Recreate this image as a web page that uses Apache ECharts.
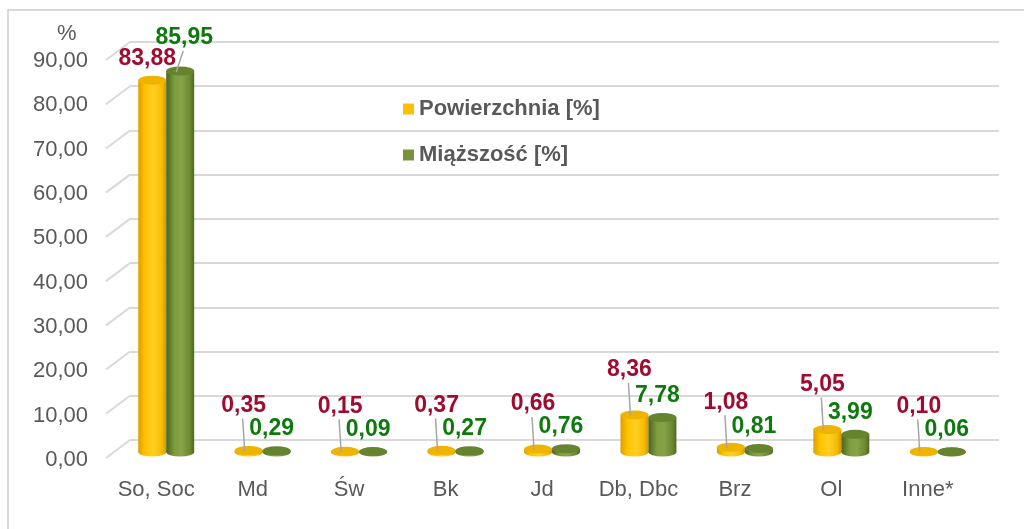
<!DOCTYPE html>
<html>
<head>
<meta charset="utf-8">
<script src="https://cdn.jsdelivr.net/npm/echarts@6/dist/echarts.min.js"></script>
<style>
  html, body { margin: 0; padding: 0; background: #fff; }
  #chart { width: 1024px; height: 529px; }
</style>
</head>
<body>
<div id="chart"></div>
<script>
const categories = ['So, Soc', 'Md', 'Św', 'Bk', 'Jd', 'Db, Dbc', 'Brz', 'Ol', 'Inne*'];
const powierzchnia = [83.88, 0.35, 0.15, 0.37, 0.66, 8.36, 1.08, 5.05, 0.10];
const miazszosc = [85.95, 0.29, 0.09, 0.27, 0.76, 7.78, 0.81, 3.99, 0.06];
const yTicks = [0, 10, 20, 30, 40, 50, 60, 70, 80, 90];

const FONT = '"Liberation Sans", Arial, sans-serif';
const fmt = v => v.toFixed(2).replace('.', ',');

const grad = (stops) => ({
   type: 'linear', x: 0, y: 0, x2: 1, y2: 0,
   colorStops: stops.map(([o, c]) => ({ offset: o, color: c }))
});

const yellowBody = grad([[0, '#DE9E00'], [0.25, '#FFC400'], [0.55, '#FFD024'], [0.85, '#F7BA00'], [1, '#D49800']]);
const greenBody = grad([[0, '#4C6620'], [0.3, '#7E9C40'], [0.55, '#86A447'], [0.85, '#6C8833'], [1, '#4D6822']]);

// side: -1 left bar, +1 right bar
const cylinder = (side, body, topFill, labelColor, placeLabel) => (params, api) => {
   const i = api.value(0);
   const v = api.value(1);
   const top = api.coord([i, v]);
   const base = api.coord([i, 0]);
   const band = api.size([1, 0])[0];
   const rx = band * 0.145;
   const ry = 4.5;
   const cx = top[0] + side * rx;
   const [dx, dy, leader] = placeLabel(i);
   const lx = cx + dx, ly = top[1] + dy;
   const children = [
      { type: 'circle', x: cx, y: base[1], scaleY: ry / rx, shape: { cx: 0, cy: 0, r: rx }, style: { fill: body } },
      { type: 'rect', shape: { x: cx - rx, y: top[1], width: rx * 2, height: base[1] - top[1] }, style: { fill: body } },
      { type: 'circle', x: cx, y: top[1], scaleY: ry / rx, shape: { cx: 0, cy: 0, r: rx }, style: { fill: topFill } }
   ];
   if (leader) {
      children.push({
         type: 'line',
         shape: { x1: lx - 1, y1: ly + 13, x2: cx - 4, y2: top[1] + 1 },
         style: { stroke: '#A6A6A6', lineWidth: 1.5 }
      });
   }
   children.push({
      type: 'text', x: lx, y: ly,
      style: { text: fmt(v), fill: labelColor, font: 'bold 23px ' + FONT, align: 'center', verticalAlign: 'middle' }
   });
   return { type: 'group', children };
};

const chart = echarts.init(document.getElementById('chart'));
chart.setOption({
   animation: false,
   title: {
      text: '%', left: 52, top: 18,
      textStyle: { fontSize: 22, fontWeight: 'normal', color: '#595959', fontFamily: FONT }
   },
   graphic: [{
      type: 'rect', silent: true,
      shape: { x: 8, y: 10, width: 1100, height: 600 },
      style: { fill: 'none', stroke: '#D9D9D9', lineWidth: 2 }
   }],
   legend: {
      orient: 'vertical', left: 398, top: 93,
      itemWidth: 11, itemHeight: 11, itemGap: 24,
      icon: 'rect',
      textStyle: { fontSize: 22, fontWeight: 'bold', color: '#595959', fontFamily: FONT },
      data: ['Powierzchnia [%]', 'Miąższość [%]']
   },
   grid: [
      { left: 130, right: 25, top: 42, height: 398 },   // back wall gridlines
      { left: 118, right: 38, top: 53, height: 399 },   // cylinders
      { left: 118, right: 38, top: 61, height: 399 }    // tick labels
   ],
   xAxis: [
      { gridIndex: 0, type: 'value', min: 0, max: 1, show: false },
      {
         gridIndex: 1, type: 'category', data: categories,
         axisLine: { show: false }, axisTick: { show: false },
         axisLabel: { interval: 0, margin: 27, padding: [0, 20, 0, 0], fontSize: 22, color: '#595959', fontFamily: FONT }
      },
      { gridIndex: 2, type: 'value', min: 0, max: 1, show: false }
   ],
   yAxis: [
      {
         gridIndex: 0, type: 'value', min: 0, max: 90, interval: 10,
         axisLine: { show: false }, axisTick: { show: false }, axisLabel: { show: false },
         splitLine: { lineStyle: { color: '#D9D9D9', width: 2 } }
      },
      {
         gridIndex: 1, type: 'value', min: 0, max: 90, interval: 10,
         axisLine: { show: false }, axisTick: { show: false }, splitLine: { show: false },
         axisLabel: { show: false }
      },
      {
         gridIndex: 2, type: 'value', min: 0, max: 90, interval: 10,
         axisLine: { show: false }, axisTick: { show: false }, splitLine: { show: false },
         axisLabel: {
            margin: 30, fontSize: 22, color: '#595959', fontFamily: FONT,
            formatter: v => fmt(v)
         }
      }
   ],
   series: [
      {
         type: 'custom', name: 'wall', xAxisIndex: 0, yAxisIndex: 0, silent: true, clip: false,
         data: yTicks.map(v => [0, v]),
         renderItem: (params, api) => {
            const p = api.coord([0, api.value(1)]);
            return {
               type: 'line',
               shape: { x1: p[0] - 24, y1: p[1] + 18, x2: p[0], y2: p[1] },
               style: { stroke: '#D9D9D9', lineWidth: 2 }
            };
         }
      },
      {
         type: 'custom', name: 'Powierzchnia [%]', xAxisIndex: 1, yAxisIndex: 1, clip: false,
         itemStyle: { color: '#FFC000' },
         data: powierzchnia.map((v, i) => [i, v]),
         renderItem: cylinder(-1, yellowBody, '#EFB400', '#A00C30',
            i => i === 0 ? [-5, -21, false] : [-5, -45, true])
      },
      {
         type: 'custom', name: 'Miąższość [%]', xAxisIndex: 1, yAxisIndex: 1, clip: false,
         itemStyle: { color: '#77933C' },
         data: miazszosc.map((v, i) => [i, v]),
         renderItem: cylinder(1, greenBody, '#66842F', '#0E7A0E',
            i => i === 0 ? [4, -33, true] : [-5, -22, false])
      }
   ]
});
</script>
</body>
</html>
